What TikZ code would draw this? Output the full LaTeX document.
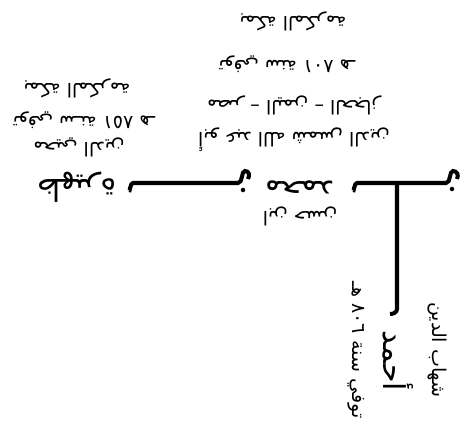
\documentclass[tikz,border=0pt]{standalone}
\usepackage{fontspec}
\newfontfamily\arabicfont[Script=Arabic]{DejaVu Sans}
\TeXXeTstate=1
\tikzset{
    nota/.style={
           rotate=180,
           inner sep=0pt,
           font=\arabicfont\fontsize{19}{21}\selectfont},
    ism/.style={
           rotate=180,
           inner sep=0pt,
           font=\arabicfont\fontsize{30}{32}\selectfont},
    notav/.style={nota, rotate=90},
    ismv/.style={ism, rotate=90},
    bin/.style={draw=black, line width=4pt},
    nuqta/.style={circle, fill=black, inner sep=0pt, minimum size=4.5pt}
    }
\begin{document}
\begin{tikzpicture}[x=0.035cm,y=-0.035cm]
      \useasboundingbox (0,0) rectangle (463,435);
      % left
      \node[nota] (zm) at (77,88) {\beginR بمكة المكرمة\endR};
      \node[nota] (zt) at (84,120) {\beginR توفي سـنة \beginL ٨٥١\endL{} هـ\endR};
      \node[nota] (zl) at (79,147) {\beginR محيي الدين\endR};
      \node[ism] (zahira) at (77,187) {\beginR ظهيرة\endR};
      % middle
      \node[nota] (mm) at (293,21) {\beginR بمكة المكرمة\endR};
      \node[nota] (mt) at (287,64) {\beginR توفي سنة \beginL ٨٠١\endL{} هـ\endR};
      \node[nota] (mb) at (294,105) {\beginR مصر – اليمن – الحجاز\endR};
      \node[nota] (mk) at (294,140) {\beginR أبو عبد الله شمس الدين\endR};
      \node[ism] (muhammad) at (300,187) {\beginR محمد\endR};
      \node[nota] (ml) at (300,216) {\beginR ابن حسن\endR};
      % right, standing
      \node[notav] (al) at (437,350) {\beginR شهاب الدين\endR};
      \node[ismv] (ahmad) at (398,361) {\beginR أحمد\endR};
      \node[notav] (at) at (356,350) {\beginR توفي سنة \beginL ٨٠٦\endL{} هـ\endR};
      % bin
      \coordinate (b1) at (133,183);
      \coordinate (n1) at (238,183);
      \coordinate (b2) at (357,183);
      \coordinate (n2) at (446,183);
      \coordinate (tj) at (397,183);
      \coordinate (tb) at (397,309);
      \draw[bin] (129,190) to[out=-70,in=180] (b1) -- (n1)
            .. controls (243,183) and (241,171) .. (245,171)
            .. controls (249,171) and (250,175) .. (248,179);
      \draw[bin] (353,190) to[out=-70,in=180] (b2) -- (n2)
            .. controls (451,183) and (449,171) .. (453,171)
            .. controls (457,171) and (459,175) .. (457,179);
      \draw[bin] (tj) -- (tb) to[out=-90,in=0] (390,314);
      \node[nuqta] (d1) at (243,190) {};
      \node[nuqta] (d2) at (452,189) {};
\end{tikzpicture}
\end{document}
